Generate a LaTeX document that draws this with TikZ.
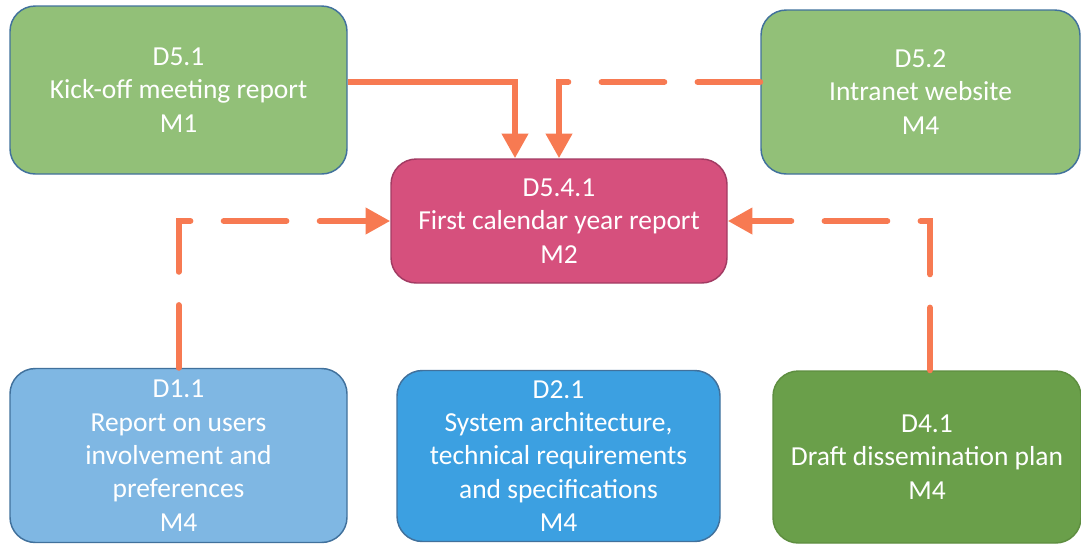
\documentclass[tikz,border=0pt]{standalone}
\usepackage{fontspec}
\setmainfont{Carlito}
\usetikzlibrary{arrows.meta}

\definecolor{leafgreen}{HTML}{92C078}
\definecolor{skyblue}{HTML}{7FB7E3}
\definecolor{oceanblue}{HTML}{3CA0E1}
\definecolor{mossgreen}{HTML}{6A9F4A}
\definecolor{rosepink}{HTML}{D6507D}
\definecolor{linkorange}{HTML}{F77A52}
\definecolor{edgeblue}{HTML}{41719C}
\definecolor{edgepink}{HTML}{A23B63}
\definecolor{edgegreen}{HTML}{5E8E40}

\begin{document}
\begin{tikzpicture}[x=0.75pt,y=-0.75pt,
    deliv/.style={rounded corners=19pt, line width=1.1pt, text=white,
        align=center, inner sep=0pt,
        font=\fontsize{20.6}{25}\selectfont},
    link/.style={draw=linkorange, line width=4.5pt,
        -{Triangle[length=18.5pt,width=19pt]}},
    dashlink/.style={link, line cap=round,
        dash pattern=on 47pt off 25pt}]

    % Size of one pixel of the reference
    \def\px{0.75pt}

    \useasboundingbox (0,0) rectangle (1081,544);

    % Top row
    \node[deliv, fill=leafgreen, draw=edgeblue,
          minimum width=337*\px, minimum height=168*\px]
          (d51) at (178.5,90) {D5.1\\Kick-off meeting report\\M1};
    \node[deliv, fill=leafgreen, draw=edgeblue,
          minimum width=319*\px, minimum height=164*\px]
          (d52) at (920.5,92) {D5.2\\Intranet website\\M4};

    % Centre deliverable
    \node[deliv, fill=rosepink, draw=edgepink,
          minimum width=336*\px, minimum height=124*\px]
          (d541) at (559,221) {D5.4.1\\First calendar year report\\M2};

    % Bottom row
    \node[deliv, fill=skyblue, draw=edgeblue,
          minimum width=337*\px, minimum height=174*\px]
          (d11) at (178.5,455.5)
          {D1.1\\Report on users\\involvement and\\preferences\\M4};
    \node[deliv, fill=oceanblue, draw=edgeblue,
          minimum width=323*\px, minimum height=171*\px]
          (d21) at (558.5,456)
          {D2.1\\System architecture,\\technical requirements\\and specifications\\M4};
    \node[deliv, fill=mossgreen, draw=edgegreen,
          minimum width=308*\px, minimum height=172*\px]
          (d41) at (927,457) {D4.1\\Draft dissemination plan\\M4};

    % Inputs to D5.4.1
    \draw[link] ([yshift=6pt]d51.east) -| ([xshift=-33pt]d541.north);
    \draw[dashlink] ([yshift=7.5pt]d52.west) -| (d541.north);
    \draw[dashlink] (d11.north) |- (d541.west);
    \draw[dashlink] ([xshift=2.25pt]d41.north) |- (d541.east);

\end{tikzpicture}
\end{document}
